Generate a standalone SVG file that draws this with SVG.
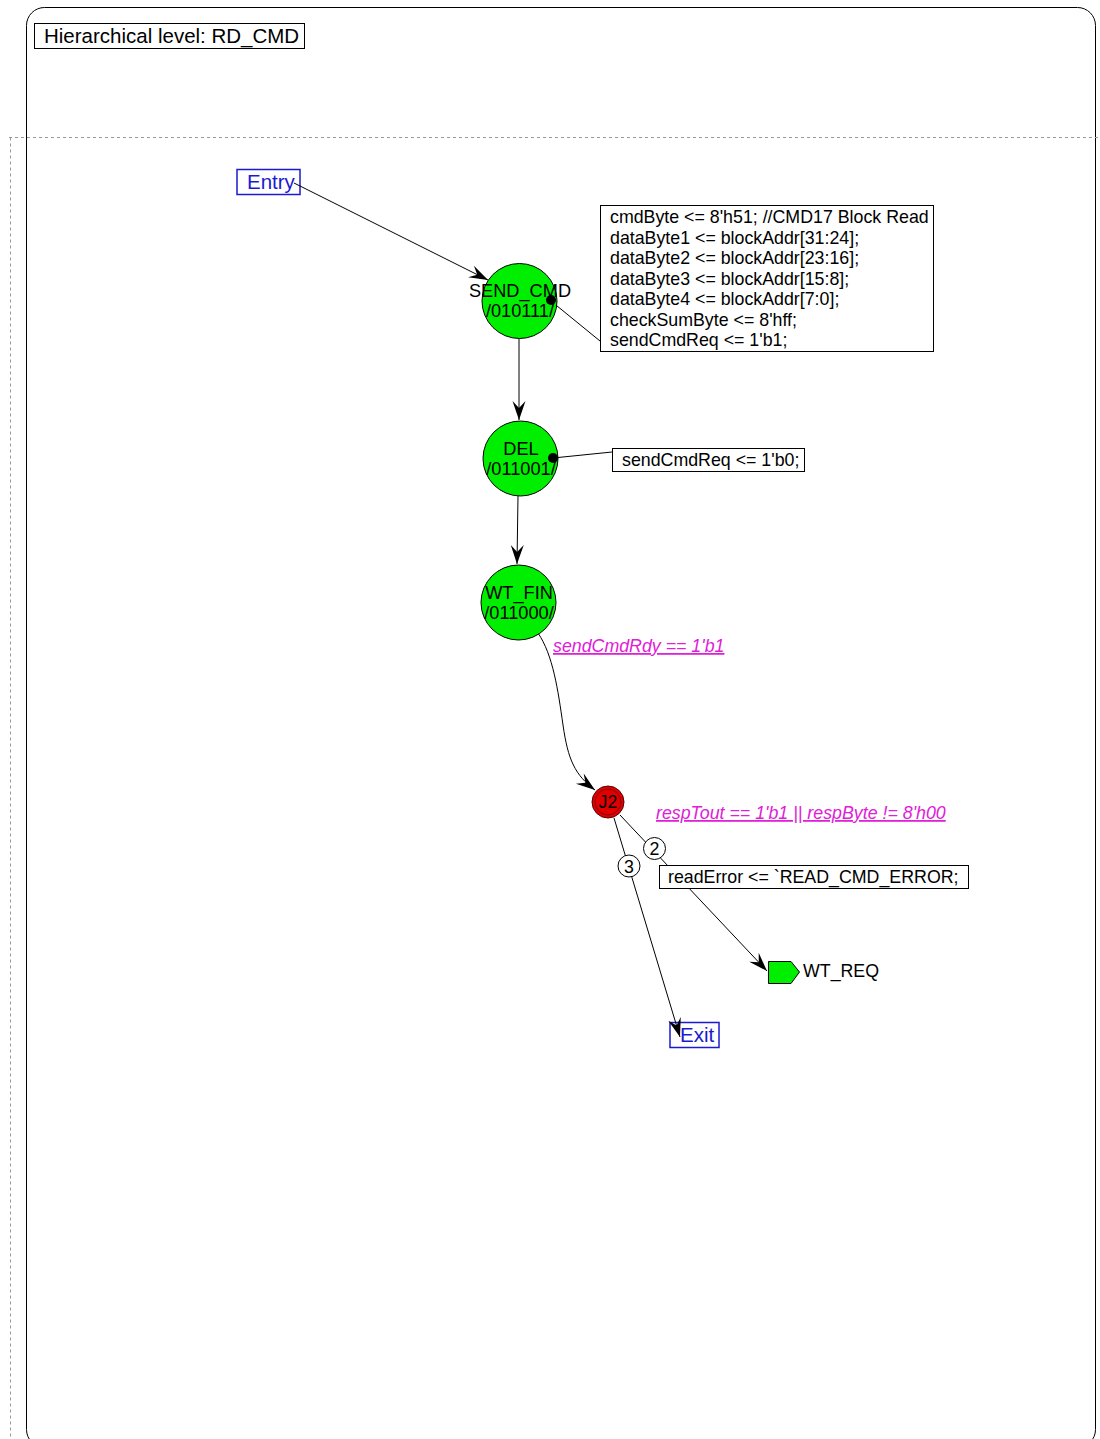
<svg xmlns="http://www.w3.org/2000/svg" width="1100" height="1439" viewBox="0 0 1100 1439">
<defs>
<style>
text{font-family:"Liberation Sans",Arial,sans-serif;fill:#000;}
.t17{font-size:17.8px;}
.ts{font-size:18.2px;}
.t20{font-size:20.5px;}
.blue{fill:#1a1ad0;}
.cond{font-size:17.8px;font-style:italic;text-decoration:underline;fill:#e020d8;}
.state{fill:#00ee00;stroke:#000;stroke-width:1;}
.box{fill:#fff;stroke:#000;stroke-width:1;}
.bbox{fill:#fff;stroke:#1a1ad0;stroke-width:1.5;}
.conn{fill:none;stroke:#000;stroke-width:1;}
.dash{fill:none;stroke:#999;stroke-width:1;stroke-dasharray:3,3;}
</style>
<marker id="arr" markerWidth="22" markerHeight="16" viewBox="-20 -8 22 16" refX="0" refY="0" orient="auto" markerUnits="userSpaceOnUse">
<path d="M0,0 L-19,-6.5 L-12,0 L-19,6.5 Z" fill="#000"/>
</marker>
</defs>
<rect width="1100" height="1439" fill="#fff"/>
<g id="frame">
<rect x="26.5" y="7.5" width="1069" height="1440" rx="18" ry="18" fill="none" stroke="#000" stroke-width="1"/>
<line class="dash" x1="9" y1="137.5" x2="1100" y2="137.5"/>
<line class="dash" x1="10.5" y1="137.5" x2="10.5" y2="1439"/>
</g>
<g id="title">
<rect class="box" x="34.5" y="23.5" width="270" height="25"/>
<text class="t20" x="44" y="43">Hierarchical level: RD_CMD</text>
</g>
<g id="entry">
<rect class="bbox" x="237" y="169.5" width="63" height="25"/>
<text class="t20 blue" x="247" y="189">Entry</text>
</g>
<g id="exit">
<rect class="bbox" x="670" y="1022.5" width="49" height="25"/>
<text class="t20 blue" x="680" y="1042">Exit</text>
</g>
<g id="connectors">
<line class="conn" x1="294" y1="183" x2="488" y2="280" marker-end="url(#arr)"/>
<line class="conn" x1="519" y1="339" x2="519" y2="420" marker-end="url(#arr)"/>
<line class="conn" x1="518" y1="496" x2="517" y2="564" marker-end="url(#arr)"/>
<path class="conn" d="M538,633 C553,655 558,690 563,725 C568,760 575,775 595,790" marker-end="url(#arr)"/>
<line class="conn" x1="620" y1="815" x2="767" y2="971" marker-end="url(#arr)"/>
<line class="conn" x1="614" y1="818" x2="680" y2="1037" marker-end="url(#arr)"/>
<line class="conn" x1="551" y1="301" x2="600" y2="341"/>
<line class="conn" x1="553" y1="458" x2="612" y2="452"/>
</g>
<g id="send_cmd">
<circle class="state" cx="519.5" cy="301" r="37.5"/>
<text class="ts" x="520" y="297" text-anchor="middle">SEND_CMD</text>
<text class="ts" x="520" y="317" text-anchor="middle">/010111/</text>
<circle cx="551" cy="300" r="5" fill="#000"/>
</g>
<g id="send_cmd_action">
<rect class="box" x="600.5" y="205.5" width="333" height="146"/>
<text class="t17" x="610" y="223">cmdByte &lt;= 8'h51; //CMD17 Block Read</text>
<text class="t17" x="610" y="243.5">dataByte1 &lt;= blockAddr[31:24];</text>
<text class="t17" x="610" y="264">dataByte2 &lt;= blockAddr[23:16];</text>
<text class="t17" x="610" y="284.5">dataByte3 &lt;= blockAddr[15:8];</text>
<text class="t17" x="610" y="305">dataByte4 &lt;= blockAddr[7:0];</text>
<text class="t17" x="610" y="325.5">checkSumByte &lt;= 8'hff;</text>
<text class="t17" x="610" y="346">sendCmdReq &lt;= 1'b1;</text>
</g>
<g id="del">
<circle class="state" cx="520.5" cy="458.5" r="37.5"/>
<text class="ts" x="521" y="455" text-anchor="middle">DEL</text>
<text class="ts" x="521" y="475" text-anchor="middle">/011001/</text>
<circle cx="553" cy="458" r="5" fill="#000"/>
</g>
<g id="del_action">
<rect class="box" x="612.5" y="448.5" width="192" height="23"/>
<text class="t17" x="622" y="466">sendCmdReq &lt;= 1'b0;</text>
</g>
<g id="wt_fin">
<circle class="state" cx="518.5" cy="602.5" r="37.5"/>
<text class="ts" x="519" y="599" text-anchor="middle">WT_FIN</text>
<text class="ts" x="519" y="619" text-anchor="middle">/011000/</text>
</g>
<g id="cond1">
<text class="cond" x="553" y="652">sendCmdRdy == 1'b1</text>
</g>
<g id="j2">
<circle cx="608" cy="802" r="16" fill="#e00000" stroke="#500" stroke-width="1"/>
<circle cx="608" cy="802" r="13" fill="none" stroke="#800" stroke-width="1"/>
<text class="t17" x="608" y="808" text-anchor="middle">J2</text>
</g>
<g id="cond2">
<text class="cond" x="656" y="819">respTout == 1'b1 || respByte != 8'h00</text>
</g>
<g id="prio2">
<circle cx="654.5" cy="848.5" r="11" fill="#fff" stroke="#000"/>
<text class="t17" x="654.5" y="855" text-anchor="middle">2</text>
</g>
<g id="prio3">
<circle cx="629" cy="866" r="11" fill="#fff" stroke="#000"/>
<text class="t17" x="629" y="872.5" text-anchor="middle">3</text>
</g>
<g id="err_action">
<rect class="box" x="659.5" y="865.5" width="309" height="23"/>
<text class="t17" x="668" y="883">readError &lt;= `READ_CMD_ERROR;</text>
</g>
<g id="wt_req">
<path d="M768.5,961.5 L791,961.5 L799.5,972 L791,983.5 L768.5,983.5 Z" fill="#00ee00" stroke="#000" stroke-width="1"/>
<text class="t17" x="803" y="977">WT_REQ</text>
</g>
</svg>
